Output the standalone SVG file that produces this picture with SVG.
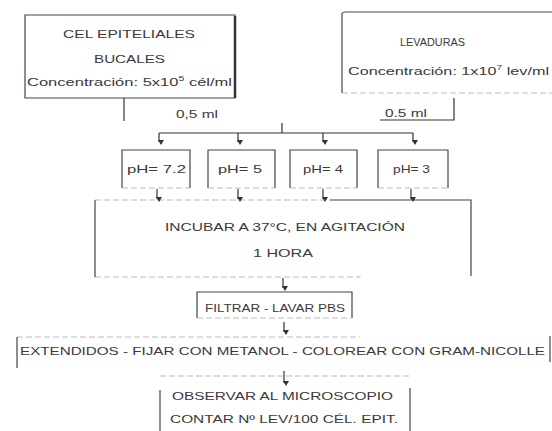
<svg xmlns="http://www.w3.org/2000/svg" width="552" height="431" viewBox="0 0 552 431">
<style>
text{font-family:"Liberation Sans",Arial,sans-serif;font-size:11px;fill:#3a3a3a;text-anchor:start;dominant-baseline:central}
.b{fill:none;stroke:#444;stroke-width:1.2}
.lt{fill:none;stroke:#bbb;stroke-width:1;stroke-dasharray:6 3}
.c{fill:none;stroke:#333;stroke-width:1.2}
</style>
<defs>
<marker id="ah" viewBox="0 0 6 6" refX="3" refY="5" markerWidth="6" markerHeight="6" markerUnits="userSpaceOnUse" orient="auto-start-reverse">
<path d="M0,1 L6,1 L3,6 Z" fill="#333" transform="rotate(-90 3 3)"/>
</marker>
</defs>
<rect width="552" height="431" fill="#fff"/>
<g id="cel">
<path class="b" d="M25,15 H235 V98 H25 Z"/>
<path d="M235,16 V98" stroke="#333" stroke-width="2.5"/>
<text x="63" y="34" textLength="132" lengthAdjust="spacingAndGlyphs">CEL EPITELIALES</text>
<text x="94" y="59" textLength="71" lengthAdjust="spacingAndGlyphs">BUCALES</text>
<text x="27" y="82" textLength="205" lengthAdjust="spacingAndGlyphs">Concentración: 5x10<tspan dy="-4" font-size="7">5</tspan><tspan dy="4"> cél/ml</tspan></text>
</g>
<g id="lev">
<path class="b" d="M342,93 V14 Q342,12 346,12 H552"/>
<path class="lt" d="M342,93 H552"/>
<text x="400" y="42" textLength="65" lengthAdjust="spacingAndGlyphs">LEVADURAS</text>
<text x="348" y="71" textLength="201" lengthAdjust="spacingAndGlyphs">Concentración: 1x10<tspan dy="-4" font-size="7">7</tspan><tspan dy="4"> lev/ml</tspan></text>
</g>
<g id="ph72">
<path class="b" d="M122,188 V150 H190 V188"/><path class="lt" d="M122,188 H190"/>
<text x="127" y="169" textLength="59" lengthAdjust="spacingAndGlyphs">pH= 7.2</text>
</g>
<g id="ph5">
<path class="b" d="M208,188 V150 H275 V188"/><path class="lt" d="M208,188 H275"/>
<text x="218" y="169" textLength="44" lengthAdjust="spacingAndGlyphs">pH= 5</text>
</g>
<g id="ph4">
<path class="b" d="M290,188 V150 H357 V188"/><path class="lt" d="M290,188 H357"/>
<text x="303" y="169" textLength="40" lengthAdjust="spacingAndGlyphs">pH= 4</text>
</g>
<g id="ph3">
<path class="b" d="M378,188 V150 H448 V188"/><path class="lt" d="M378,188 H448"/>
<text x="393" y="169" textLength="37" lengthAdjust="spacingAndGlyphs">pH= 3</text>
</g>
<g id="incubar">
<path class="lt" d="M95,200 H330 M95,277 H360 V276"/>
<path class="b" d="M330,200 H471 V276 M95,200 V277"/>
<text x="165" y="227" textLength="240" lengthAdjust="spacingAndGlyphs">INCUBAR A 37°C, EN AGITACIÓN</text>
<text x="253" y="253" textLength="60" lengthAdjust="spacingAndGlyphs">1 HORA</text>
</g>
<g id="filtrar">
<path class="b" d="M197,318 V292 H352 V318"/><path class="lt" d="M197,318 H352"/>
<text x="205" y="308" textLength="140" lengthAdjust="spacingAndGlyphs">FILTRAR - LAVAR PBS</text>
</g>
<g id="extendidos">
<path class="lt" d="M17,337 H360"/>
<path class="b" d="M17,368 V337 M550,336 V362"/>
<text x="20" y="351" textLength="525" lengthAdjust="spacingAndGlyphs">EXTENDIDOS - FIJAR CON METANOL - COLOREAR CON GRAM-NICOLLE</text>
</g>
<g id="observar">
<path class="lt" d="M160,376 H410"/>
<path class="b" d="M160,390 V431 M410,388 V431"/>
<text x="172" y="396" textLength="221" lengthAdjust="spacingAndGlyphs">OBSERVAR AL MICROSCOPIO</text>
<text x="170" y="419" textLength="228" lengthAdjust="spacingAndGlyphs">CONTAR Nº LEV/100 CÉL. EPIT.</text>
</g>
<g id="connectors">
<path class="c" d="M124,98 V121"/>
<text x="176" y="114" textLength="42" lengthAdjust="spacingAndGlyphs">0,5 ml</text>
<path class="c" d="M454,98 V120 H380"/>
<text x="385" y="113" textLength="42" lengthAdjust="spacingAndGlyphs">0.5 ml</text>
<path class="c" d="M282,123 V133"/>
<path class="c" d="M159,133 H413" stroke-width="1.8"/>
<path class="c" d="M159,133 V142" marker-end="url(#ah)"/>
<path class="c" d="M238,133 V142" marker-end="url(#ah)"/>
<path class="c" d="M323,133 V142" marker-end="url(#ah)"/>
<path class="c" d="M413,133 V142" marker-end="url(#ah)"/>
<path class="c" d="M157,189 V199" marker-end="url(#ah)"/>
<path class="c" d="M238,189 V199" marker-end="url(#ah)"/>
<path class="c" d="M323,189 V199" marker-end="url(#ah)"/>
<path class="c" d="M411,189 V199" marker-end="url(#ah)"/>
<path class="c" d="M283,278 V288" marker-end="url(#ah)"/>
<path class="c" d="M284,322 V332" marker-end="url(#ah)"/>
<path class="c" d="M284,371 V383" marker-end="url(#ah)"/>
</g>
</svg>
